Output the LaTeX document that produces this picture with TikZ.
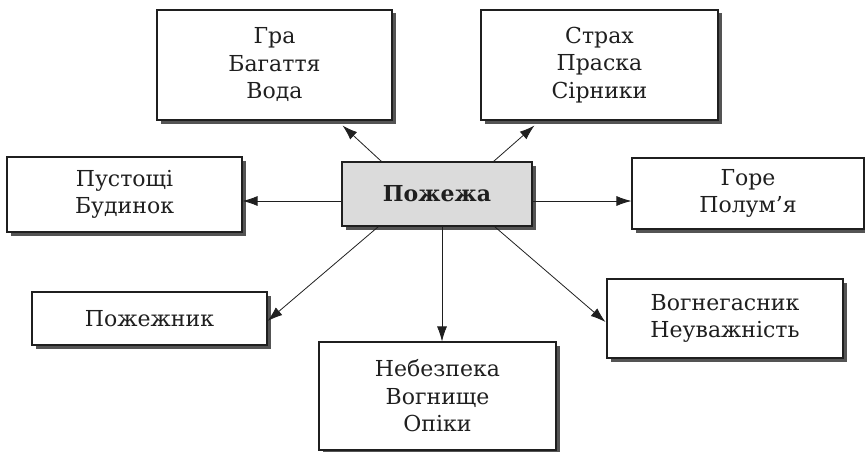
\documentclass[tikz,border=0pt]{standalone}
\usepackage{fontspec}
\setmainfont{DejaVu Serif}
\usetikzlibrary{shadows,calc,arrows.meta}
\definecolor{shd}{gray}{0.33}
\definecolor{ink}{gray}{0.12}
\begin{document}
\begin{tikzpicture}[x=1pt,y=-1pt,
  box/.style={draw=ink,line width=1.1pt,fill=white,rectangle,align=center,
    inner sep=0pt,font=\fontsize{22}{27.5}\selectfont,text=ink,
    drop shadow={shadow xshift=3.5pt,shadow yshift=-3.5pt,fill=shd,opacity=1}},
  arr/.style={draw=ink,line width=0.8pt,-{Latex[length=15pt,width=10pt]}}]
\useasboundingbox (0,0) rectangle (865,452);
\node[box,minimum width=235pt,minimum height=110pt] (gra) at (274.5,65) {Гра\\Багаття\\Вода};
\node[box,minimum width=237pt,minimum height=110pt] (strakh) at (599.5,65) {Страх\\Праска\\Сірники};
\node[box,minimum width=235pt,minimum height=75pt] (pust) at (124.5,194.5) {Пустощі\\Будинок};
\node[box,minimum width=190pt,minimum height=64pt,fill=gray!28] (pozh) at (437,194) {\bfseries Пожежа};
\node[box,minimum width=232pt,minimum height=71pt] (gore) at (748,193.5) {Горе\\Полум’я};
\node[box,minimum width=235pt,minimum height=53pt] (pozhn) at (149.5,318.5) {Пожежник};
\node[box,minimum width=237pt,minimum height=108pt] (neb) at (437.5,396) {Небезпека\\Вогнище\\Опіки};
\node[box,minimum width=236pt,minimum height=79pt] (vohn) at (725,318.5) {Вогнегасник\\Неуважність};
\draw[arr] ($(pozh.north west)+(40,0)$) -- ($(gra.south east)+(-50,5)$);
\draw[arr] ($(pozh.north east)+(-39,0)$) -- ($(strakh.south west)+(54,5)$);
\draw[arr] ($(pozh.west)+(0,7)$) -- ($(pust.east)+(0,6.5)$);
\draw[arr] ($(pozh.east)+(0,7)$) -- ($(gore.west)+(0,7.5)$);
\draw[arr] ($(pozh.south west)+(37,0)$) -- ($(pozhn.east)+(0,2.5)$);
\draw[arr] ($(pozh.south)+(5,0)$) -- ($(neb.north)+(4.5,0)$);
\draw[arr] ($(pozh.south east)+(-38,0)$) -- ($(vohn.west)+(-1,3.5)$);
\end{tikzpicture}
\end{document}
